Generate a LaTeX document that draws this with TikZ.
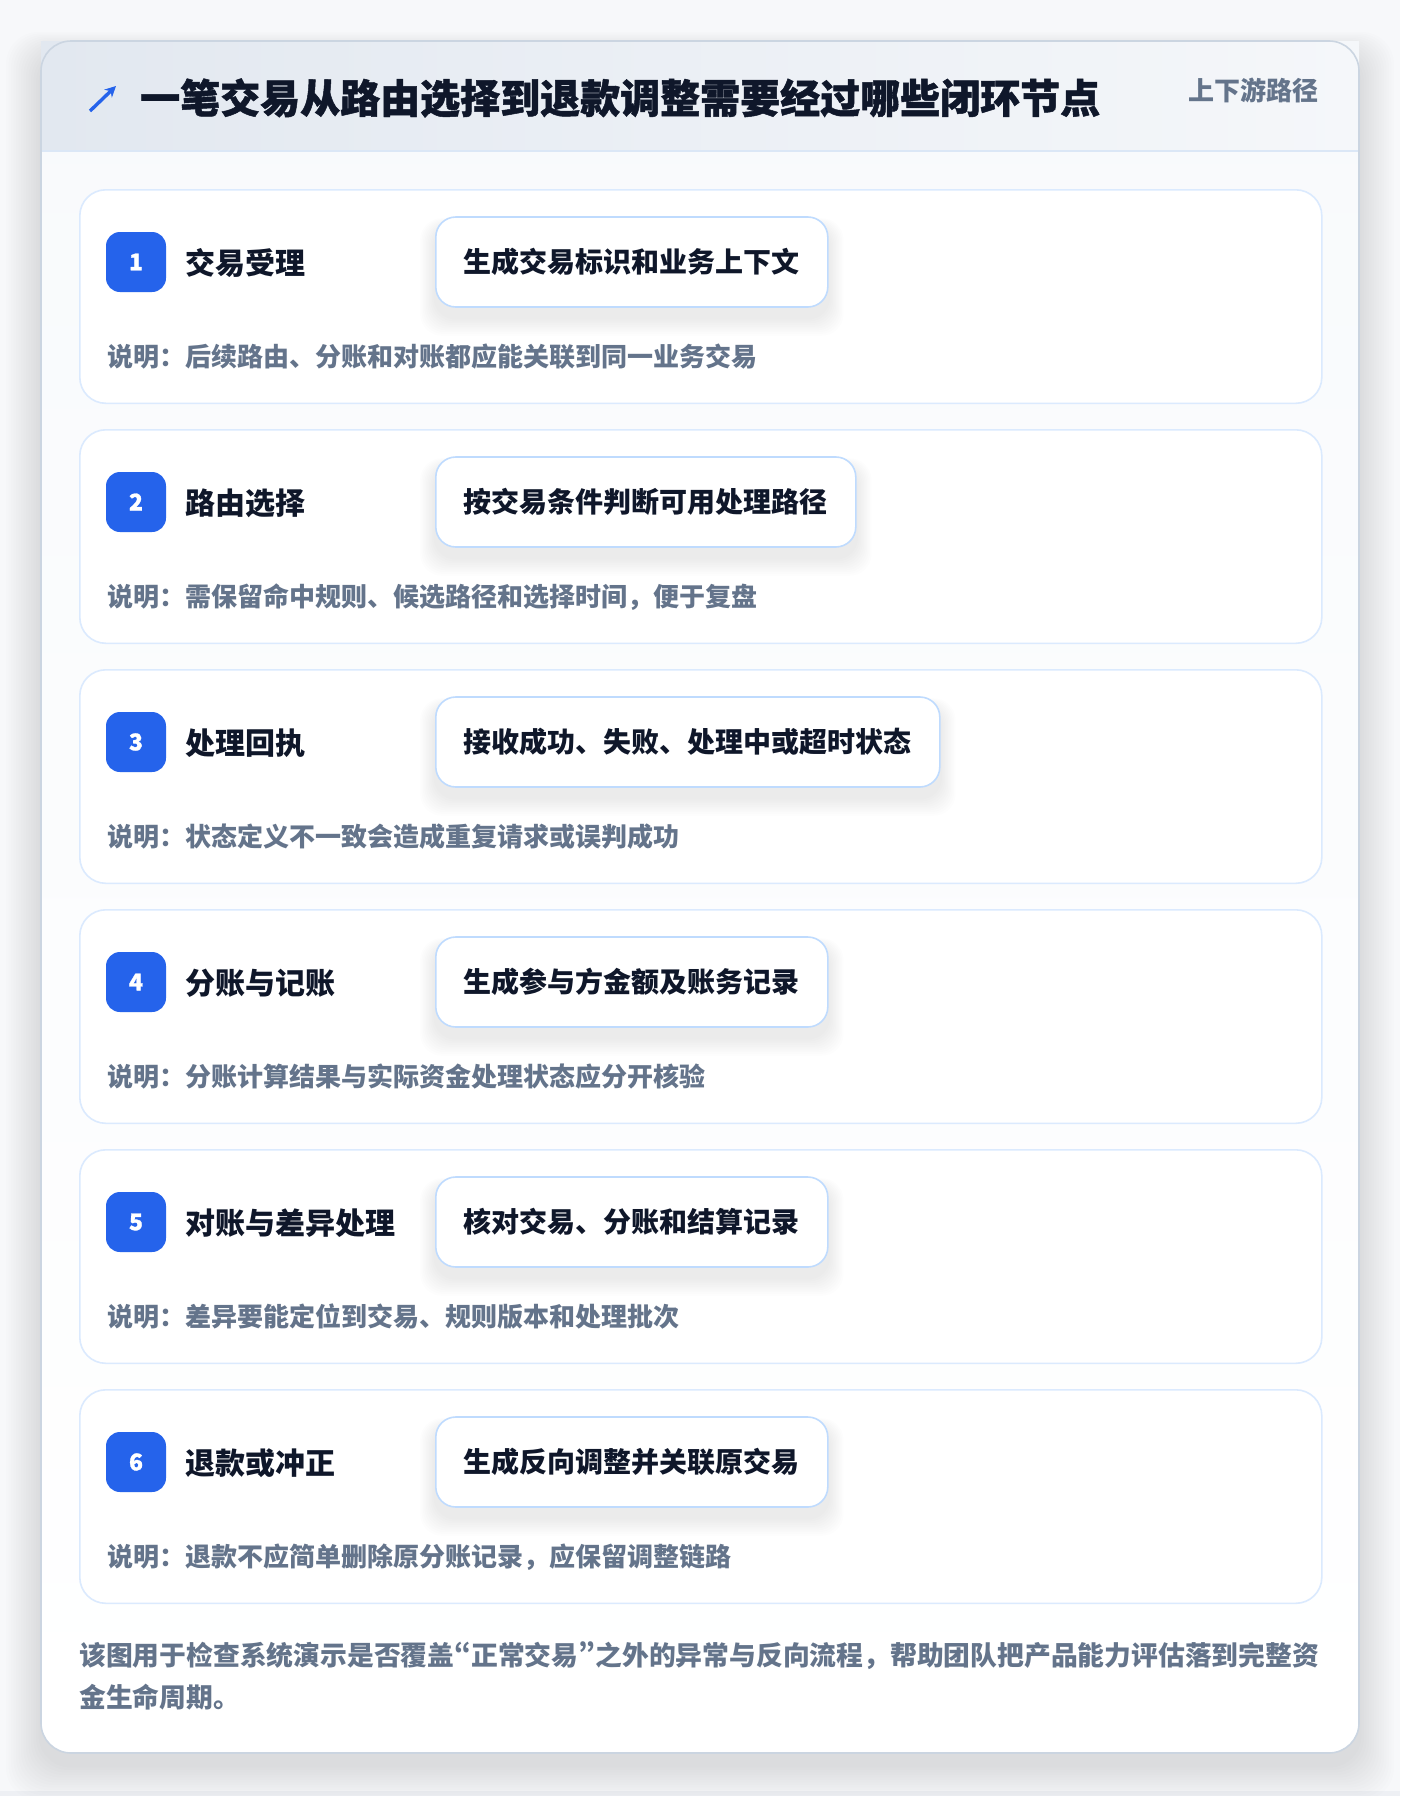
\documentclass[tikz,border=0pt]{standalone}
\usepackage{fontspec}
\setmainfont{Noto Sans CJK SC}
\newfontfamily\heavyfont{Noto Sans CJK SC}[BoldFeatures={FakeBold=1.2}]
\newcommand\narrowq[1]{{\addfontfeatures{RawFeature=+pwid}#1}}
\usetikzlibrary{arrows.meta,calc}
\definecolor{pagebg}{HTML}{F7F8FA}
\definecolor{pagestrip}{HTML}{EEF0F4}
\definecolor{cardborder}{HTML}{CBD5E1}
\definecolor{hdrL}{HTML}{E2E8F0}
\definecolor{hdrR}{HTML}{F5F7FA}
\definecolor{hdrline}{HTML}{DBE7F6}
\definecolor{bodytop}{HTML}{F8FAFC}
\definecolor{stepborder}{HTML}{DBEAFE}
\definecolor{badgeblue}{HTML}{2563EB}
\definecolor{boxborder}{HTML}{BFDBFE}
\definecolor{titlec}{HTML}{0F172A}
\definecolor{mutec}{HTML}{64748B}
\pgfdeclarelayer{bglayer}
\pgfdeclarelayer{shadowlayer}
\pgfsetlayers{bglayer,shadowlayer,main}
\begin{document}
\begin{tikzpicture}[x=1pt,y=-1pt,
  stepcard/.style={draw=stepborder, line width=1.6pt, fill=white, rounded corners=26pt,
    minimum width=1242pt, minimum height=213.5pt, inner sep=0pt, anchor=north west},
  badge/.style={fill=badgeblue, rounded corners=14pt, minimum width=60pt, minimum height=60pt,
    inner sep=0pt, text=white, font=\fontsize{23}{23}\heavyfont\bfseries},
  steptitle/.style={anchor=west, inner sep=0pt, text=titlec, font=\fontsize{30}{34}\selectfont\bfseries},
  actbox/.style={anchor=west, draw=boxborder, line width=1.6pt, fill=white, rounded corners=20pt,
    minimum height=90pt, inner xsep=28pt, inner ysep=0pt, text=titlec,
    font=\fontsize{28}{32}\selectfont\bfseries},
  desctext/.style={anchor=west, inner sep=0pt, text=mutec, font=\fontsize{26}{30}\selectfont\bfseries},
]
\useasboundingbox (0,0) rectangle (1400,1796);
\begin{pgfonlayer}{bglayer}
  \fill[pagebg] (0,0) rectangle (1400,1796);
  \fill[pagestrip] (0,1791) rectangle (1400,1796);
  \foreach \k in {1,...,14}
    \fill[black, opacity=0.006, rounded corners=32pt] (41-2.5*\k,41-1.5*\k+12) rectangle (1359+2.5*\k,1753+2.5*\k+12);
  \fill[top color=bodytop, bottom color=white, rounded corners=30pt] (41,41) rectangle (1359,1753);
  \shade[left color=hdrL, right color=hdrR] (41,41) rectangle (1359,151);
  \draw[hdrline, line width=2pt] (41,151) -- (1359,151);
  \draw[cardborder, line width=1.6pt, rounded corners=30pt] (41,41) rectangle (1359,1753);
\end{pgfonlayer}
\coordinate (arrtail) at (90,111);
\coordinate (arrhead) at (116,86);
\draw[badgeblue, line width=3.4pt, -{Stealth[length=11pt,width=11pt]}] (arrtail) -- (arrhead);
\node[anchor=west, inner sep=0pt, text=titlec, font=\fontsize{40}{48}\heavyfont\bfseries] (title) at (140,98)
  {一笔交易从路由选择到退款调整需要经过哪些闭环节点};
\node[anchor=east, inner sep=0pt, text=mutec, font=\fontsize{26}{30}\selectfont\bfseries] (tag) at (1319,90) {上下游路径};
\foreach \i/\T/\nm/\act/\desc in {
  1/189/交易受理/生成交易标识和业务上下文/说明：后续路由、分账和对账都应能关联到同一业务交易,
  2/429/路由选择/按交易条件判断可用处理路径/说明：需保留命中规则、候选路径和选择时间，便于复盘,
  3/669/处理回执/接收成功、失败、处理中或超时状态/说明：状态定义不一致会造成重复请求或误判成功,
  4/909/分账与记账/生成参与方金额及账务记录/说明：分账计算结果与实际资金处理状态应分开核验,
  5/1149/对账与差异处理/核对交易、分账和结算记录/说明：差异要能定位到交易、规则版本和处理批次,
  6/1389/退款或冲正/生成反向调整并关联原交易/说明：退款不应简单删除原分账记录，应保留调整链路}
{
  \begin{pgfonlayer}{bglayer}
    \node[stepcard] (card\i) at (79,\T) {};
  \end{pgfonlayer}
  \node[badge] (badge\i) at (136,\T+73) {\i};
  \node[steptitle] (title\i) at (185,\T+74) {\nm};
  \node[actbox] (act\i) at (435,\T+73) {\act};
  \node[desctext] (desc\i) at (107,\T+168) {\desc};
  \begin{pgfonlayer}{shadowlayer}
    \foreach \k in {1,...,10}
      \fill[black, opacity=0.006, rounded corners=22pt]
        ([xshift=-1.5*\k pt, yshift=0.8*\k pt-10pt]act\i.north west) rectangle
        ([xshift=1.5*\k pt, yshift=-1.8*\k pt-10pt]act\i.south east);
  \end{pgfonlayer}
}
\node[anchor=west, align=left, inner sep=0pt, text=mutec, font=\fontsize{26.8}{42}\selectfont\bfseries] (footer) at (79,1676)
  {该图用于检查系统演示是否覆盖\narrowq{“}正常交易\narrowq{”}之外的异常与反向流程，帮助团队把产品能力评估落到完整资\\金生命周期。};
\end{tikzpicture}
\end{document}
